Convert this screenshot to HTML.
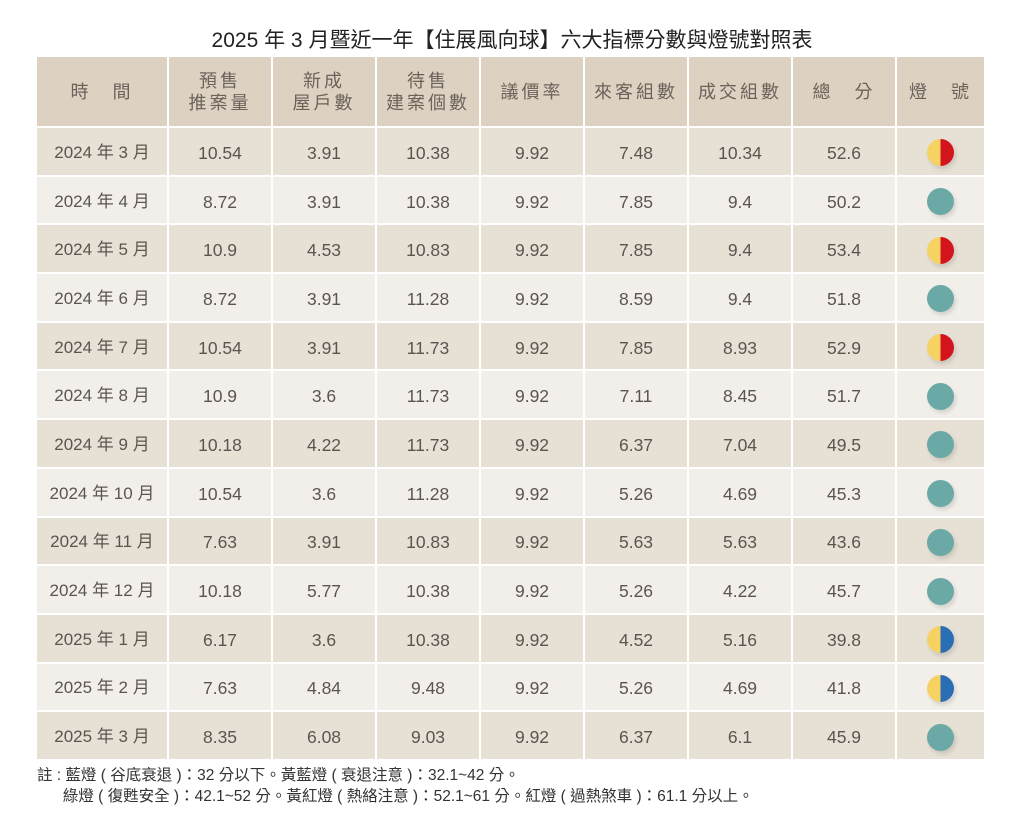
<!DOCTYPE html>
<html><head><meta charset="utf-8"><style>
body{margin:0;width:1024px;height:831px;background:#fff;font-family:"Liberation Sans","Noto Sans CJK TC",sans-serif;color:#555;position:relative;overflow:hidden}
.title{position:absolute;top:26px;left:0;width:1024px;text-align:center;font-size:21px;color:#222;line-height:30px}
table{position:absolute;left:35px;top:55px;border-collapse:separate;border-spacing:2px;table-layout:fixed;width:951px}
td,th{text-align:center;padding:0;font-weight:normal;font-size:17.5px}
th{background:#ddd2c2;height:69px;font-size:18px;letter-spacing:3px;line-height:22px;color:#6b625a}
tr:nth-child(even) td{background:#e6e0d5}
tr:nth-child(odd) td{background:#f2efea}
td{color:#5a5550;line-height:22px;padding-top:3px;height:43.7px}
td:first-child{font-size:17px}
.l{display:inline-block;width:27px;height:27px;border-radius:50%;vertical-align:middle;box-shadow:2px 3px 4px rgba(0,0,0,.12)}
.yr{background:linear-gradient(90deg,#f6d262 50%,#d3141c 50%)}
.yb{background:linear-gradient(90deg,#f6d262 50%,#2a6fb5 50%)}
.g{background:#6aa9a6}
.note{position:absolute;left:37px;top:765px;font-size:15.5px;line-height:21px;color:#333}
</style></head><body>
<div class="title">2025 年 3 月暨近一年【住展風向球】六大指標分數與燈號對照表</div>
<table>
<colgroup><col style="width:130px"><col style="width:102px"><col style="width:102px"><col style="width:102px"><col style="width:102px"><col style="width:102px"><col style="width:102px"><col style="width:102px"><col style="width:87px"></colgroup>
<tr><th>時　間</th><th>預售<br>推案量</th><th>新成<br>屋戶數</th><th>待售<br>建案個數</th><th>議價率</th><th>來客組數</th><th>成交組數</th><th>總　分</th><th>燈　號</th></tr>
<tr><td>2024 年 3 月</td><td>10.54</td><td>3.91</td><td>10.38</td><td>9.92</td><td>7.48</td><td>10.34</td><td>52.6</td><td><span class="l yr"></span></td></tr>
<tr><td>2024 年 4 月</td><td>8.72</td><td>3.91</td><td>10.38</td><td>9.92</td><td>7.85</td><td>9.4</td><td>50.2</td><td><span class="l g"></span></td></tr>
<tr><td>2024 年 5 月</td><td>10.9</td><td>4.53</td><td>10.83</td><td>9.92</td><td>7.85</td><td>9.4</td><td>53.4</td><td><span class="l yr"></span></td></tr>
<tr><td>2024 年 6 月</td><td>8.72</td><td>3.91</td><td>11.28</td><td>9.92</td><td>8.59</td><td>9.4</td><td>51.8</td><td><span class="l g"></span></td></tr>
<tr><td>2024 年 7 月</td><td>10.54</td><td>3.91</td><td>11.73</td><td>9.92</td><td>7.85</td><td>8.93</td><td>52.9</td><td><span class="l yr"></span></td></tr>
<tr><td>2024 年 8 月</td><td>10.9</td><td>3.6</td><td>11.73</td><td>9.92</td><td>7.11</td><td>8.45</td><td>51.7</td><td><span class="l g"></span></td></tr>
<tr><td>2024 年 9 月</td><td>10.18</td><td>4.22</td><td>11.73</td><td>9.92</td><td>6.37</td><td>7.04</td><td>49.5</td><td><span class="l g"></span></td></tr>
<tr><td>2024 年 10 月</td><td>10.54</td><td>3.6</td><td>11.28</td><td>9.92</td><td>5.26</td><td>4.69</td><td>45.3</td><td><span class="l g"></span></td></tr>
<tr><td>2024 年 11 月</td><td>7.63</td><td>3.91</td><td>10.83</td><td>9.92</td><td>5.63</td><td>5.63</td><td>43.6</td><td><span class="l g"></span></td></tr>
<tr><td>2024 年 12 月</td><td>10.18</td><td>5.77</td><td>10.38</td><td>9.92</td><td>5.26</td><td>4.22</td><td>45.7</td><td><span class="l g"></span></td></tr>
<tr><td>2025 年 1 月</td><td>6.17</td><td>3.6</td><td>10.38</td><td>9.92</td><td>4.52</td><td>5.16</td><td>39.8</td><td><span class="l yb"></span></td></tr>
<tr><td>2025 年 2 月</td><td>7.63</td><td>4.84</td><td>9.48</td><td>9.92</td><td>5.26</td><td>4.69</td><td>41.8</td><td><span class="l yb"></span></td></tr>
<tr><td>2025 年 3 月</td><td>8.35</td><td>6.08</td><td>9.03</td><td>9.92</td><td>6.37</td><td>6.1</td><td>45.9</td><td><span class="l g"></span></td></tr>
</table>
<div class="note">註 : 藍燈 ( 谷底衰退 )：32 分以下。黃藍燈 ( 衰退注意 )：32.1~42 分。<br>&nbsp;&nbsp;&nbsp;&nbsp;&nbsp;&nbsp;綠燈 ( 復甦安全 )：42.1~52 分。黃紅燈 ( 熱絡注意 )：52.1~61 分。紅燈 ( 過熱煞車 )：61.1 分以上。</div>
</body></html>
